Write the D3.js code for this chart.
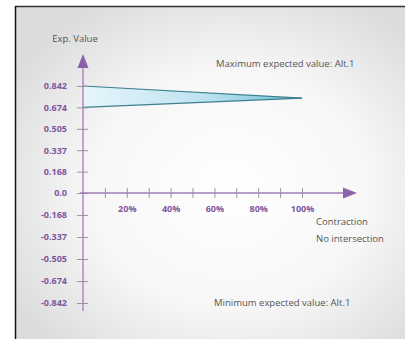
<!DOCTYPE html>
<html><head><meta charset="utf-8">
<script src="https://cdn.jsdelivr.net/npm/d3@7"></script>
<style>html,body{margin:0;padding:0;background:#fff;overflow:hidden}</style>
</head><body>
<svg id="c" width="405" height="339"></svg>
<script>
const contraction = [0, 100];
const maxValues = [0.842, 0.746];
const minValues = [0.674, 0.746];
const yTickValues = [0.842, 0.674, 0.505, 0.337, 0.168, 0.0, -0.168, -0.337, -0.505, -0.674, -0.842];
const yTickLabels = ["0.842","0.674","0.505","0.337","0.168","0.0","-0.168","-0.337","-0.505","-0.674","-0.842"];
const xTickValues = [10,20,30,40,50,60,70,80,90,100];
const xTickLabels = {20:"20%",40:"40%",60:"60%",80:"80%",100:"100%"};

const svg = d3.select("#c");
const defs = svg.append("defs");
const bg = defs.append("radialGradient").attr("id","bg").attr("cx","55%").attr("cy","55%").attr("r","65%");
bg.append("stop").attr("offset","0%").attr("stop-color","#ffffff");
bg.append("stop").attr("offset","55%").attr("stop-color","#f7f7f7");
bg.append("stop").attr("offset","100%").attr("stop-color","#dcdcdc");
const tg = defs.append("linearGradient").attr("id","tri").attr("x1","0").attr("x2","1").attr("y1","0").attr("y2","0");
tg.append("stop").attr("offset","0%").attr("stop-color","#e6f5fb");
tg.append("stop").attr("offset","55%").attr("stop-color","#bfe3f0");
tg.append("stop").attr("offset","100%").attr("stop-color","#6ec1d9");

svg.append("rect").attr("x",15).attr("y",6).attr("width",390).attr("height",333).attr("fill","url(#bg)");
svg.append("line").attr("x1",15).attr("x2",405).attr("y1",6.5).attr("y2",6.5).attr("stroke","#333").attr("stroke-width",1.5);
svg.append("line").attr("x1",15.5).attr("x2",15.5).attr("y1",6).attr("y2",339).attr("stroke","#111").attr("stroke-width",1.5);

const x = d3.scaleLinear().domain([0,100]).range([83,302]);
const y = d3.scaleLinear().domain([-0.842, 0, 0.842]).range([303, 193, 86]);

const axisCol = "#a07cbc";
const labelCol = "#7e56a0";
const font = "'Open Sans', sans-serif";

// triangle
const area = d3.area().x((d,i)=>x(contraction[i])).y0((d,i)=>y(minValues[i])).y1((d,i)=>y(maxValues[i]));
svg.append("path").datum(contraction).attr("d",area).attr("fill","url(#tri)");
const lineMax = d3.line().x((d,i)=>x(contraction[i])).y((d,i)=>y(maxValues[i]));
const lineMin = d3.line().x((d,i)=>x(contraction[i])).y((d,i)=>y(minValues[i]));
svg.append("path").datum(contraction).attr("d",lineMax).attr("fill","none").attr("stroke","#3d7f8e").attr("stroke-width",1.2);
svg.append("path").datum(contraction).attr("d",lineMin).attr("fill","none").attr("stroke","#3d7f8e").attr("stroke-width",1.2);

// y axis
const yAxis = d3.axisLeft(y).tickValues(yTickValues).tickFormat((d,i)=>yTickLabels[i]).tickSizeInner(6).tickSizeOuter(0).tickPadding(10);
const gy = svg.append("g").attr("transform","translate(83,0)").call(yAxis);
gy.select(".domain").remove();
gy.selectAll(".tick line").attr("x1",-6).attr("x2",5).attr("stroke","#999").attr("stroke-width",1);
gy.selectAll(".tick text").attr("fill",labelCol).attr("font-family",font).attr("font-weight","bold").attr("font-size",9).attr("dx",0);
svg.append("line").attr("x1",83).attr("x2",83).attr("y1",311).attr("y2",64).attr("stroke",axisCol).attr("stroke-width",1.3);
svg.append("path").attr("d","M83,54 L77.5,68 L88.5,68 Z").attr("fill","#8a63ab");

// x axis
const xAxis = d3.axisBottom(x).tickValues(xTickValues).tickFormat(d=>xTickLabels[d]||"").tickSizeInner(5).tickSizeOuter(0).tickPadding(8);
const gx = svg.append("g").attr("transform","translate(0,193)").call(xAxis);
gx.select(".domain").remove();
gx.selectAll(".tick line").attr("y1",-5).attr("y2",5).attr("stroke","#999").attr("stroke-width",1);
gx.selectAll(".tick text").attr("fill",labelCol).attr("font-family",font).attr("font-weight","bold").attr("font-size",9);
svg.append("line").attr("x1",80).attr("x2",346).attr("y1",193).attr("y2",193).attr("stroke",axisCol).attr("stroke-width",1.3);
svg.append("path").attr("d","M357,193 L343,187.5 L343,198.5 Z").attr("fill","#8a63ab");

// texts
const txt = (t,xx,yy,anchor)=>svg.append("text").attr("x",xx).attr("y",yy).attr("text-anchor",anchor||"start")
  .attr("fill","#555").attr("font-family",font).attr("font-size",9.5).text(t);
txt("Exp. Value",75,42,"middle");
txt("Maximum expected value: Alt.1",216,67);
txt("Contraction",316,225);
txt("No intersection",316,242);
txt("Minimum expected value: Alt.1",214,306);
</script>
</body></html>
